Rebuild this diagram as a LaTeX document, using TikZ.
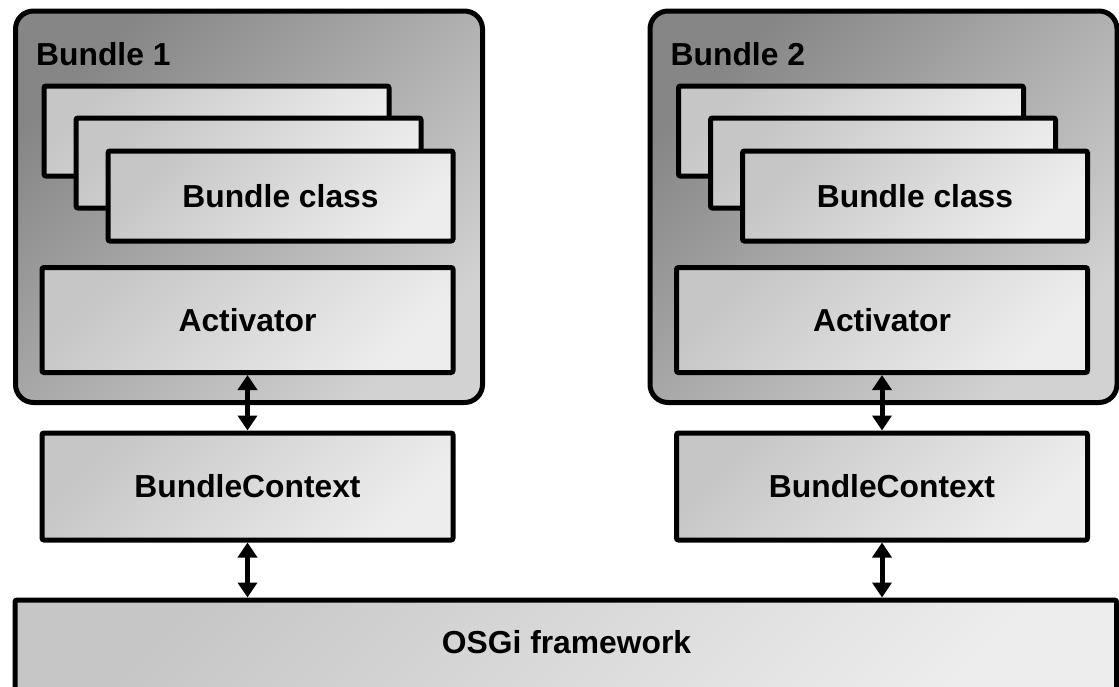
\documentclass[tikz,border=0pt]{standalone}
\usepackage{fontspec}
\setmainfont{Liberation Sans}
\usetikzlibrary{arrows.meta}
\definecolor{bundleDark}{HTML}{868686}
\definecolor{bundleLight}{HTML}{D2D2D2}
\definecolor{partDark}{HTML}{C6C6C6}
\definecolor{partLight}{HTML}{EDEDED}
\begin{document}
\begin{tikzpicture}[x=1pt,y=-1pt,
  every node/.style={font=\fontsize{31.8}{36}\selectfont\bfseries, inner sep=0pt},
  bundlebox/.style={draw=black, line width=5pt, rounded corners=18pt,
    top color=bundleDark, bottom color=bundleLight, shading angle=45},
  partbox/.style={draw=black, line width=5pt, rounded corners=2pt,
    top color=partDark, bottom color=partLight, shading angle=45},
  cardbox/.style={partbox, minimum width=345pt, minimum height=90pt},
  widebox/.style={partbox, minimum width=411pt},
  link/.style={line width=5pt,
    {Triangle[width=19pt,length=15pt]}-{Triangle[width=19pt,length=15pt]}}
]
\clip (0,0) rectangle (1119,686);

% Bundle 1
\node[bundlebox, minimum width=467pt, minimum height=391.5pt] (b1) at (249,206.75) {};
\node[anchor=base west] (b1t) at (36,65) {Bundle 1};
\node[cardbox] (b1c1) at (216.5,131) {};
\node[cardbox] (b1c2) at (248.5,163) {};
\node[cardbox] (b1c3) at (280.5,196) {Bundle class};
\node[widebox, minimum height=105pt] (b1a) at (247.5,320) {Activator};
\node[widebox, minimum height=107pt] (b1x) at (247.5,486.5) {BundleContext};

% Bundle 2
\node[bundlebox, minimum width=467pt, minimum height=391.5pt] (b2) at (883.5,206.75) {};
\node[anchor=base west] (b2t) at (670.5,65) {Bundle 2};
\node[cardbox] (b2c1) at (851,131) {};
\node[cardbox] (b2c2) at (883,163) {};
\node[cardbox] (b2c3) at (915,196) {Bundle class};
\node[widebox, minimum height=105pt] (b2a) at (882,320) {Activator};
\node[widebox, minimum height=107pt] (b2x) at (882,486.5) {BundleContext};

% Framework
\node[partbox, minimum width=1101.5pt, minimum height=100pt] (osgi) at (565.75,650) {};
\node (osgit) at (566.5,642) {OSGi framework};

% Connectors
\draw[link] (b1a.south) -- (b1x.north);
\draw[link] (b1x.south) -- (b1x.south |- osgi.north);
\draw[link] (b2a.south) -- (b2x.north);
\draw[link] (b2x.south) -- (b2x.south |- osgi.north);
\end{tikzpicture}
\end{document}
